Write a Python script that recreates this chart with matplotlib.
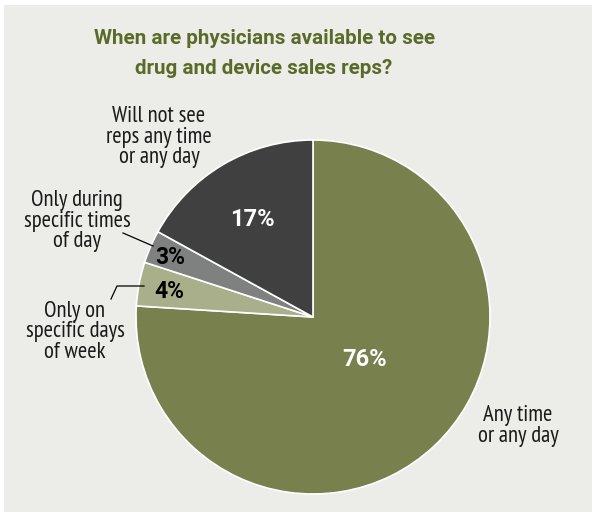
import matplotlib.pyplot as plt
from matplotlib.patches import Rectangle

# Data
labels = ['Any time\nor any day', 'Only on\nspecific days\nof week',
          'Only during\nspecific times\nof day', 'Will not see\nreps any time\nor any day']
values = [76, 4, 3, 17]
pct_labels = ['76%', '4%', '3%', '17%']
colors = ['#78804d', '#a9ae8b', '#7f8080', '#404040']
pct_colors = ['white', 'black', 'black', 'white']

W, H = 592, 512
fig = plt.figure(figsize=(W / 100, H / 100), dpi=100)
fig.patch.set_facecolor('white')
fig.patches.append(Rectangle((4 / W, 0), 1, 1 - 5 / H, transform=fig.transFigure,
                             facecolor='#ecede8', edgecolor='none', zorder=-1))

title_font = ['Roboto', 'DejaVu Sans']
lab_font = ['PT Sans Narrow', 'Roboto Condensed', 'DejaVu Sans']

fig.text(264 / W, 1 - 38 / H, 'When are physicians available to see',
         ha='center', va='center', fontsize=14.9, fontweight='bold', color='#5a6a28',
         family=title_font)
fig.text(264 / W, 1 - 68 / H, 'drug and device sales reps?',
         ha='center', va='center', fontsize=14.9, fontweight='bold', color='#5a6a28',
         family=title_font)

# pie axes: center (313, 317), radius 177 px
cx, cy, r = 313, 317, 177
ax = fig.add_axes([(cx - r) / W, 1 - (cy + r) / H, 2 * r / W, 2 * r / H])
wedges, _ = ax.pie(values, colors=colors, startangle=90, counterclock=False,
                   wedgeprops=dict(edgecolor='white', linewidth=1.2))
ax.set_xlim(-1, 1)
ax.set_ylim(-1, 1)
ax.set_aspect('equal')
ax.axis('off')

# helper: pixel position -> data coords of pie axes
def to_data(px, py):
    return (px - cx) / r, (cy - py) / r

pct_pos = [(365, 360), (169, 292), (170, 257), (252, 220)]
pct_size = [17, 16.5, 16.5, 17]
for t, (px, py), c, s in zip(pct_labels, pct_pos, pct_colors, pct_size):
    x, y = to_data(px, py)
    ax.text(x, y, t, ha='center', va='center', fontsize=s, fontweight='bold',
            color=c, family=title_font)

# category labels
lab_pos = [(518, 426), (75, 332), (77, 221), (159, 137)]
for t, (px, py) in zip(labels, lab_pos):
    x, y = to_data(px, py)
    ax.text(x, y, t, ha='center', va='center', fontsize=16.3, color='#1a1a1a',
            family=lab_font, linespacing=0.94, clip_on=False)

# leader lines
x0, y0 = to_data(123, 233)
x1, y1 = to_data(153, 246)
ax.plot([x0, x1], [y0, y1], color='black', lw=0.9, clip_on=False)
x0, y0 = to_data(111, 299)
x1, y1 = to_data(117, 286)
x2, y2 = to_data(144, 286)
ax.plot([x0, x1, x2], [y0, y1, y2], color='black', lw=0.9, clip_on=False)

fig.savefig('out.png', dpi=100, facecolor=fig.get_facecolor())
